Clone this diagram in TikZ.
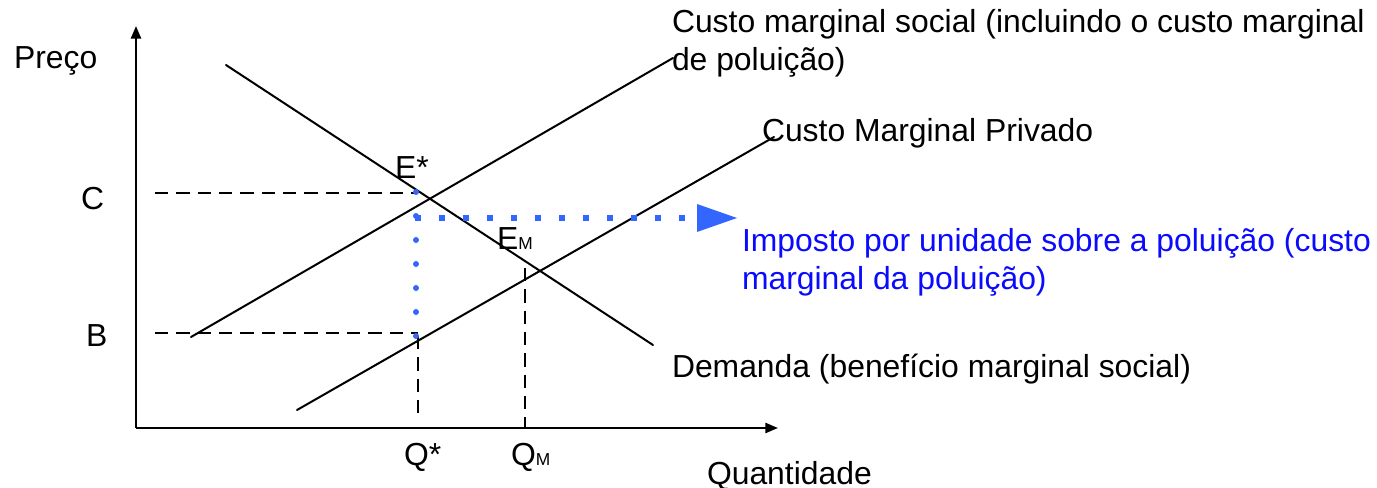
\documentclass[tikz,border=0pt]{standalone}
\usepackage{fontspec}
\setmainfont{Liberation Sans}
\usetikzlibrary{arrows.meta}
\definecolor{arrowblue}{RGB}{51,102,255}
\definecolor{textblue}{RGB}{10,10,255}
\newcommand{\smallsub}[1]{{\fontsize{13}{13}\selectfont #1}}
\begin{document}
\begin{tikzpicture}[x=0.75pt,y=-0.75pt,
  lbl/.style={anchor=base west, inner sep=0pt, outer sep=0pt, font=\fontsize{23.9}{28.5}\selectfont},
  curve/.style={line width=1.5pt, line cap=round},
  axisline/.style={line width=1.8pt, -{Triangle[length=9.5pt,width=7.5pt]}},
  guide/.style={line width=1.3pt, dash pattern=on 10pt off 6pt},
  taxsq/.style={draw=arrowblue, line width=4.5pt, dash pattern=on 4.5pt off 13.5pt},
  taxrd/.style={draw=arrowblue, line width=4.5pt, line cap=round, dash pattern=on 0pt off 18pt},
]
\useasboundingbox (0,0) rectangle (1377,488);

% axes
\coordinate (O) at (136,428);
\coordinate (Ytop) at (136,26);
\coordinate (Xend) at (778,428);
\draw[axisline] (O) -- (Ytop);
\draw[axisline] (O) -- (Xend);

% curves
\coordinate (D1) at (226,65);
\coordinate (D2) at (653,345);
\coordinate (S1) at (191,337);
\coordinate (S2) at (673,58);
\coordinate (P1) at (297,410);
\coordinate (P2) at (774,137);
\draw[curve] (D1) -- (D2);
\draw[curve] (S1) -- (S2);
\draw[curve] (P1) -- (P2);

% guides
\coordinate (Cl) at (155,193);
\coordinate (Cr) at (417,193);
\coordinate (Bl) at (155,333);
\coordinate (Br) at (418,333);
\coordinate (Qs1) at (418,336);
\coordinate (Qs2) at (418,418);
\coordinate (Qm1) at (525,268);
\coordinate (Qm2) at (525,428);
\draw[guide] (Cl) -- (Cr);
\draw[guide] (Bl) -- (Br);
\draw[guide] (Qs1) -- (Qs2);
\draw[guide] (Qm1) -- (Qm2);

% tax arrow
\coordinate (T0) at (416,192);
\coordinate (T1) at (416,337);
\coordinate (H0) at (415,218);
\coordinate (H1) at (697,218);
\draw[taxrd] (T0) -- (T1);
\draw[taxsq] (H0) -- (H1);
\fill[arrowblue] (697,204) -- (737,218) -- (697,232) -- cycle;

% labels
\node[lbl] (preco) at (14,69) {Preço};
\node[lbl] (c) at (81,210) {C};
\node[lbl] (b) at (86,346) {B};
\node[lbl] (estar) at (395,179) {E*};
\node[lbl] (em) at (497,250) {E\smallsub{M}};
\node[lbl] (qstar) at (404,465) {Q*};
\node[lbl] (qm) at (511,465) {Q\smallsub{M}};
\node[lbl] (quant) at (707,484) {Quantidade};
\node[lbl] (smc1) at (672,33) {Custo marginal social (incluindo o custo marginal};
\node[lbl] (smc2) at (672,71) {de poluição)};
\node[lbl] (pmc) at (762,142) {Custo Marginal Privado};
\node[lbl, text=textblue] (tax1) at (742,252) {Imposto por unidade sobre a poluição (custo};
\node[lbl, text=textblue] (tax2) at (742,290) {marginal da poluição)};
\node[lbl] (dem) at (672,377) {Demanda (benefício marginal social)};
\end{tikzpicture}
\end{document}
